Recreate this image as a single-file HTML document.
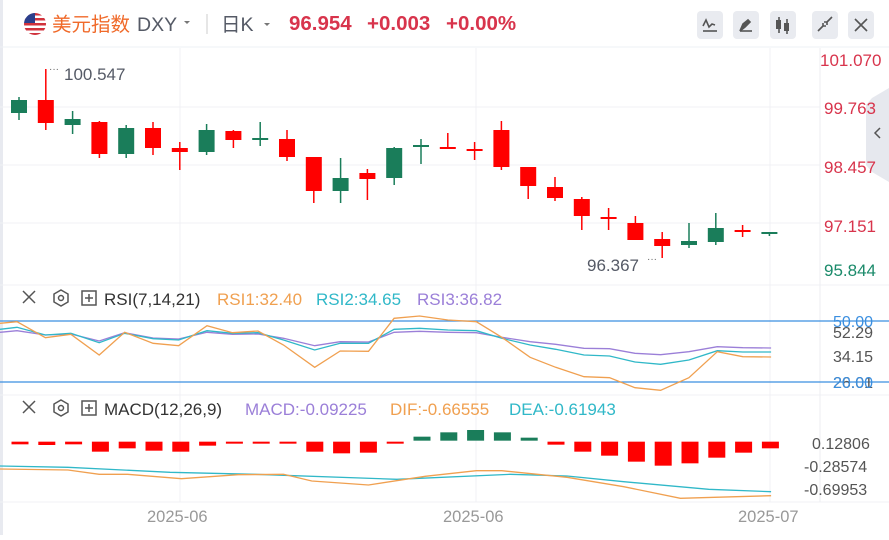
<!DOCTYPE html>
<html><head><meta charset="utf-8"><style>
html,body{margin:0;padding:0;background:#fff;}
body{width:889px;height:535px;overflow:hidden;font-family:"Liberation Sans","Noto Sans CJK SC",sans-serif;}
</style></head><body>
<svg id="s" width="889" height="535" xmlns="http://www.w3.org/2000/svg" font-family="Liberation Sans, Noto Sans CJK SC, sans-serif">
<rect x="0" y="0" width="889" height="535" fill="#fff"/>
<rect x="0" y="0" width="3" height="535" fill="#e8eaf0"/>
<line x1="0" y1="47" x2="889" y2="47" stroke="#eef0f4"/>
<defs><clipPath id="fc"><circle cx="35" cy="24" r="11"/></clipPath></defs>
<g clip-path="url(#fc)">
<rect x="24" y="13" width="22" height="22" fill="#fff"/>
<rect x="24" y="13" width="22" height="2.5" fill="#d0323c"/>
<rect x="24" y="18" width="22" height="2.5" fill="#d0323c"/>
<rect x="24" y="23" width="22" height="2.5" fill="#d0323c"/>
<rect x="24" y="28" width="22" height="2.5" fill="#d0323c"/>
<rect x="24" y="33" width="22" height="2.5" fill="#d0323c"/>
<rect x="24" y="13" width="11" height="10" fill="#2b3f8c"/>
</g>
<text x="52" y="31" font-size="19.5" fill="#f06a2a">美元指数</text>
<text x="137" y="31" font-size="19.5" fill="#555a66">DXY</text>
<path d="M184 21 l3 3 l3 -3z" fill="#777"/>
<line x1="207" y1="14" x2="207" y2="34" stroke="#ccc"/>
<text x="221" y="31" font-size="19.5" fill="#555a66">日K</text>
<path d="M264 23 l3 3 l3 -3z" fill="#777"/>
<text x="289" y="30" font-size="20.5" font-weight="bold" fill="#d8344c">96.954</text>
<text x="367" y="30" font-size="20.5" font-weight="bold" fill="#d8344c">+0.003</text>
<text x="446" y="30" font-size="20.5" font-weight="bold" fill="#d8344c">+0.00%</text>
<g fill="#e9ebf0">
<rect x="697" y="11" width="26" height="28" rx="4"/>
<rect x="733" y="11" width="26" height="28" rx="4"/>
<rect x="770" y="11" width="26" height="28" rx="4"/>
<rect x="812" y="11" width="26" height="28" rx="4"/>
<rect x="848" y="11" width="26" height="28" rx="4"/>
</g>
<g stroke="#555" stroke-width="1.6" fill="none">
<path d="M703 26 l3 -6 l3 7 l3 -3 l3 1"/><line x1="703" y1="31" x2="717" y2="31"/>
<path d="M740 31 l3 -7 l5 -4 l2 2 l-5 5z" fill="#555"/><line x1="740" y1="31" x2="752" y2="31"/>
<line x1="779" y1="17" x2="779" y2="33"/><line x1="787" y1="19" x2="787" y2="34"/>
<path d="M818 31 l5 -5 M832 17 l-5 5 M823 26 v-3 M823 26 h3 M827 22 v3 M827 22 h-3"/>
<path d="M855 19 l12 12 M867 19 l-12 12"/>
</g>
<rect x="776" y="20" width="5" height="9" fill="#555"/><rect x="784" y="23" width="5" height="8" fill="#555"/>
<g stroke="#f0f1f4">
<line x1="0" y1="107" x2="820" y2="107"/>
<line x1="0" y1="165" x2="820" y2="165"/>
<line x1="0" y1="223" x2="820" y2="223"/>
<line x1="180" y1="48" x2="180" y2="502"/>
<line x1="476" y1="48" x2="476" y2="502"/>
<line x1="770" y1="48" x2="770" y2="502"/>
<line x1="0" y1="285" x2="889" y2="285"/>
<line x1="0" y1="395" x2="889" y2="395"/>
<line x1="0" y1="502" x2="889" y2="502"/>
</g>
<line x1="820" y1="48" x2="820" y2="502" stroke="#eceef2"/>
<path d="M889 88 L872 98 L866 105 L866 165 L872 172 L889 182Z" fill="#e6e8ee"/>
<path d="M880 128 l-5 5 l5 5" stroke="#555" stroke-width="1.5" fill="none"/>
<g font-size="17" fill="#d8344c">
<text x="820" y="66">101.070</text>
<text x="824" y="114">99.763</text>
<text x="824" y="173">98.457</text>
<text x="824" y="232">97.151</text>
</g>
<text x="824" y="276" font-size="17" fill="#1a8a6a">95.844</text>
<text x="64" y="80" font-size="17" fill="#555a66">100.547</text>
<text x="49" y="72" font-size="10" fill="#666">···</text>
<text x="587" y="271" font-size="17" fill="#555a66">96.367</text>
<text x="647" y="262" font-size="10" fill="#666">···</text>
<g id="candles"></g>
<g stroke="#555" stroke-width="1.5" fill="none">
<path d="M23 291 l12 12 M35 291 l-12 12"/>
<path d="M61 290 l7 4 v8 l-7 4 l-7 -4 v-8z"/><circle cx="61" cy="298" r="2.5"/>
<rect x="82" y="291" width="14" height="14"/><path d="M85 298 h8 M89 294 v8"/>
<path d="M23 401 l12 12 M35 401 l-12 12"/>
<path d="M61 400 l7 4 v8 l-7 4 l-7 -4 v-8z"/><circle cx="61" cy="408" r="2.5"/>
<rect x="82" y="401" width="14" height="14"/><path d="M85 408 h8 M89 404 v8"/>
</g>
<text x="104" y="305" font-size="17" fill="#333">RSI(7,14,21)</text>
<text x="217" y="305" font-size="17" fill="#f0a050">RSI1:32.40</text>
<text x="316" y="305" font-size="17" fill="#30b8c8">RSI2:34.65</text>
<text x="417" y="305" font-size="17" fill="#9b7fd8">RSI3:36.82</text>
<line x1="0" y1="321" x2="889" y2="321" stroke="#3b8fe0" stroke-width="1.3"/>
<line x1="0" y1="382" x2="889" y2="382" stroke="#3b8fe0" stroke-width="1.3"/>
<g font-size="16">
<text x="833" y="327" fill="#3b8fe0">50.00</text>
<text x="833" y="338" fill="#555">52.29</text>
<text x="833" y="362" fill="#555">34.15</text>
<text x="833" y="388" fill="#555">26.01</text>
<text x="833" y="388" fill="#3b8fe0">20.00</text>
</g>
<g id="rsi"></g>
<text x="104" y="415" font-size="17" fill="#333">MACD(12,26,9)</text>
<text x="245" y="415" font-size="17" fill="#9b7fd8">MACD:-0.09225</text>
<text x="390" y="415" font-size="17" fill="#f0a050">DIF:-0.66555</text>
<text x="509" y="415" font-size="17" fill="#30b8c8">DEA:-0.61943</text>
<g font-size="16" fill="#555">
<text x="812" y="449">0.12806</text>
<text x="804" y="472">-0.28574</text>
<text x="804" y="495">-0.69953</text>
</g>
<g id="macd"></g>
<g font-size="16.5" fill="#999">
<text x="147" y="522">2025-06</text>
<text x="443" y="522">2025-06</text>
<text x="738" y="522">2025-07</text>
</g>
</svg>
<script>
var NS="http://www.w3.org/2000/svg";
function el(p,t,a){var e=document.createElementNS(NS,t);for(var k in a)e.setAttribute(k,a[k]);document.getElementById(p).appendChild(e);}
var G="#1a7d5a",R="#f00";
var c=[["g",100,113,97,120],["r",100,123,69,130],["g",119,125,111,134],["r",122,154,121,158],["g",128,154,125,158],["r",128,148,122,155],["r",148,152,142,170],["g",130,152,124,155],["r",131,140,130,148],["g",138,140,122,146],["r",139,157,130,161],["r",157,191,157,203],["g",178,191,158,203],["r",173,179,169,200],["g",148,178,147,185],["g",145,147,139,164],["r",147,149,133,149],["r",149,151,142,160],["r",130,167,121,170],["r",167,186,167,199],["r",187,198,177,201],["r",199,216,197,230],["r",217,219,208,230],["r",223,240,216,240],["r",239,246,232,258],["g",241,245,223,248],["g",228,242,213,245],["r",230,232,225,237],["g",232,233,232,236]];
c.forEach(function(d,i){var x=19+i*26.8,col=d[0]=="g"?G:R;
el("candles","line",{x1:x,x2:x,y1:d[3],y2:d[4],stroke:col,"stroke-width":1.5});
el("candles","rect",{x:x-8,y:d[1],width:16,height:Math.max(d[2]-d[1],2),fill:col});});
function pl(g,pts,col){var s=pts.map(function(p){return (p[0]*0.567).toFixed(1)+","+(280+p[1]/3).toFixed(1)}).join(" ");el(g,"polyline",{points:s,fill:"none",stroke:col,"stroke-width":1.3});}
var xs=[0,30,80,125,175,220,270,315,365,410,455,500,555,600,650,695,740,790,840,885,935,980,1030,1075,1120,1165,1215,1265,1310,1360];
function z(a){return xs.map(function(x,i){return [x,a[i]]});}
pl("rsi",z([157,152,165,162,183,158,174,177,157,163,162,175,197,185,186,157,154,157,158,172,185,193,205,206,220,224,215,200,203,204]),"#9b7fd8");
pl("rsi",z([148,142,165,160,188,160,176,180,152,160,158,180,210,190,190,148,145,150,152,175,195,208,225,228,246,253,240,212,216,216]),"#30b8c8");
pl("rsi",z([130,125,173,163,225,157,190,197,137,158,153,195,262,213,214,115,108,120,125,172,232,262,290,293,323,331,293,215,230,231]),"#f0a050");
var bv=[493,495,493,515,505,512,515,497,490,487,489,515,520,518,490,470,457,450,457,473,494,515,527,545,557,550,533,518,505];
bv.forEach(function(v,i){var X=20+i*26.8;var y0=280+485/3;var y=280+v/3;
if(i>=15&&i<=19){el("macd","rect",{x:X-8.5,y:y,width:17,height:Math.max(y0-y-1,2),fill:G});}
else{el("macd","rect",{x:X-8.5,y:y0,width:17,height:Math.max(y-y0,2),fill:R});}});
pl("macd",[[0,558],[120,562],[300,577],[450,583],[700,598],[900,583],[1000,588],[1100,605],[1250,628],[1360,635]],"#30b8c8");
pl("macd",[[0,567],[120,570],[175,583],[225,583],[320,596],[420,584],[500,583],[550,603],[650,615],[750,589],[840,572],[885,572],[1000,592],[1100,620],[1200,655],[1260,652],[1360,647]],"#f0a050");
</script>
</body></html>
